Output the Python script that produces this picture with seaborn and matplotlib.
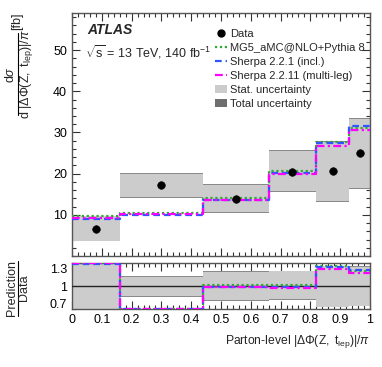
import numpy as np
import matplotlib
matplotlib.use('Agg')
import matplotlib.pyplot as plt
import seaborn as sns
from matplotlib.lines import Line2D
from matplotlib.patches import Patch
from matplotlib.ticker import MultipleLocator, FixedLocator

# --- data ---
bin_edges = [0.0, 0.16, 0.44, 0.66, 0.82, 0.93, 1.0]
data_vals = [6.5, 17.3, 13.9, 20.4, 20.7, 24.9]
stat_lo = [3.7, 14.4, 10.6, 15.8, 13.4, 16.4]
stat_hi = [9.6, 20.0, 17.2, 25.6, 27.8, 33.2]
tot_lo = [3.6, 14.2, 10.4, 15.6, 13.2, 16.2]
tot_hi = [9.7, 20.2, 17.4, 25.8, 28.0, 33.4]
mg5_vals = [9.8, 10.5, 14.1, 20.7, 27.7, 31.2]
sherpa221_vals = [9.0, 10.0, 13.6, 20.2, 27.5, 31.6]
sherpa2211_vals = [9.3, 10.2, 13.6, 19.9, 26.6, 30.7]

model_names = ['MG5_aMC@NLO+Pythia 8', 'Sherpa 2.2.1 (incl.)', 'Sherpa 2.2.11 (multi-leg)']
model_vals = [mg5_vals, sherpa221_vals, sherpa2211_vals]
model_colors = ['#33aa33', '#2e55ff', '#ff00ff']
model_styles = [(0, (1, 1.2)), (0, (3, 1.8)), (0, (3.5, 1.5, 1, 1.5))]

sns.set_theme(style='ticks')
plt.rcParams['font.family'] = ['Liberation Sans', 'DejaVu Sans']
plt.rcParams['mathtext.fontset'] = 'custom'
plt.rcParams['mathtext.rm'] = 'Liberation Sans'
plt.rcParams['mathtext.it'] = 'Liberation Sans:italic'
plt.rcParams['mathtext.sf'] = 'Liberation Sans'
plt.rcParams['font.size'] = 9

edges = np.array(bin_edges)
left = edges[:-1]
width = np.diff(edges)
centers = left + width / 2
data = np.array(data_vals)

fig = plt.figure(figsize=(3.82, 3.67), dpi=100)
ax = fig.add_axes([0.1885, 0.3025, 0.78, 0.662])
rax = fig.add_axes([0.1885, 0.157, 0.78, 0.127])

STAT_C = '#cccccc'
TOT_C = '#8a8a8a'

# main panel bands
ax.bar(left, np.array(tot_hi) - np.array(tot_lo), bottom=tot_lo, width=width,
       align='edge', color=TOT_C, linewidth=0, zorder=1)
ax.bar(left, np.array(stat_hi) - np.array(stat_lo), bottom=stat_lo, width=width,
       align='edge', color=STAT_C, linewidth=0, zorder=2)

# ratio bands
rax.bar(left, (np.array(tot_hi) - np.array(tot_lo)) / data, bottom=np.array(tot_lo) / data,
        width=width, align='edge', color=TOT_C, linewidth=0, zorder=1)
rax.bar(left, (np.array(stat_hi) - np.array(stat_lo)) / data, bottom=np.array(stat_lo) / data,
        width=width, align='edge', color=STAT_C, linewidth=0, zorder=2)
rax.axhline(1.0, color='#222222', lw=1.0, zorder=3)

for name, vals, col, ls in zip(model_names, model_vals, model_colors, model_styles):
    v = np.append(vals, vals[-1])
    sns.lineplot(x=edges, y=v, ax=ax, drawstyle='steps-post', color=col,
                 linestyle=ls, lw=1.6, zorder=4, legend=False)
    # ratio, clipped to the panel range like the original
    r = np.clip(v / np.append(data, data[-1]), 0.607, 1.393)
    sns.lineplot(x=edges, y=r, ax=rax, drawstyle='steps-post', color=col,
                 linestyle=ls, lw=1.6, zorder=4, legend=False)

sns.scatterplot(x=centers, y=data, ax=ax, color='black', s=30, edgecolor='black',
                zorder=5, legend=False)

# axes styling
for a in (ax, rax):
    a.set_xlim(0, 1)
    a.xaxis.set_major_locator(MultipleLocator(0.1))
    a.xaxis.set_minor_locator(MultipleLocator(0.02))
    a.tick_params(which='both', direction='in', top=True, right=True, colors='#333333',
                  labelcolor='black', labelsize=9)
    a.tick_params(which='major', length=6, width=0.8)
    a.tick_params(which='minor', length=3, width=0.8)
    for s in a.spines.values():
        s.set_color('#555555')
        s.set_linewidth(1.0)

ax.set_ylim(0, 59)
ax.yaxis.set_major_locator(MultipleLocator(10))
ax.yaxis.set_minor_locator(MultipleLocator(2))
ax.set_yticks([10, 20, 30, 40, 50])
ax.tick_params(labelbottom=False)
ax.set_xlabel('')
ax.set_ylabel('')

rax.set_ylim(0.6, 1.4)
rax.yaxis.set_major_locator(FixedLocator([0.7, 1.0, 1.3]))
rax.yaxis.set_minor_locator(MultipleLocator(0.1))
rax.set_yticklabels(['0.7', '1', '1.3'])
rax.set_xticks(np.round(np.arange(0, 1.01, 0.1), 1))
rax.set_xticklabels(['0'] + [f'{t:.1f}' for t in np.arange(0.1, 0.95, 0.1)] + ['1'])
rax.set_ylabel('')
rax.set_xlabel(r'Parton-level $|\Delta\Phi(\mathrm{Z,\ t_{lep}})|/\pi$', loc='right',
               fontsize=8.7, labelpad=5)

# main y label drawn as a fraction
fig.text(0.028, 0.797, r'd$\sigma$', rotation=90, ha='center', va='center', fontsize=9)
fig.add_artist(Line2D([0.0465, 0.0465], [0.687, 0.910], transform=fig.transFigure,
                      color='black', lw=0.8))
fig.text(0.070, 0.798, r'd $|\Delta\Phi(\mathrm{Z,\ t_{lep}})|/\pi$', rotation=90,
         ha='center', va='center', fontsize=9)
fig.text(0.044, 0.942, '[fb]', rotation=90, ha='center', va='center', fontsize=9)

# ratio y label drawn as a fraction
fig.text(0.031, 0.215, 'Prediction', rotation=90, ha='center', va='center', fontsize=9)
fig.add_artist(Line2D([0.0465, 0.0465], [0.140, 0.290], transform=fig.transFigure,
                      color='black', lw=0.8))
fig.text(0.063, 0.215, 'Data', rotation=90, ha='center', va='center', fontsize=9)

ax.text(0.05, 0.915, 'ATLAS', transform=ax.transAxes, fontsize=10,
        fontweight='bold', fontstyle='italic')
ax.text(0.045, 0.818, r'$\sqrt{\mathrm{s}}$ = 13 TeV, 140 fb$^{\mathrm{-1}}$',
        transform=ax.transAxes, fontsize=9)

handles = [Line2D([], [], marker='o', color='black', ls='none', markersize=5),
           Line2D([], [], color=model_colors[0], ls=model_styles[0], lw=1.6),
           Line2D([], [], color=model_colors[1], ls=model_styles[1], lw=1.6),
           Line2D([], [], color=model_colors[2], ls=model_styles[2], lw=1.6),
           Patch(facecolor=STAT_C, edgecolor='none'),
           Patch(facecolor='#6e6e6e', edgecolor='none')]
labels = ['Data'] + model_names + ['Stat. uncertainty', 'Total uncertainty']
fig.legend(handles, labels, loc='upper left', bbox_to_anchor=(0.563, 0.922),
           frameon=False, fontsize=8, handlelength=1.1, handletextpad=0.25,
           labelspacing=0.36, borderaxespad=0, borderpad=0)

fig.savefig('out.png', dpi=100)
